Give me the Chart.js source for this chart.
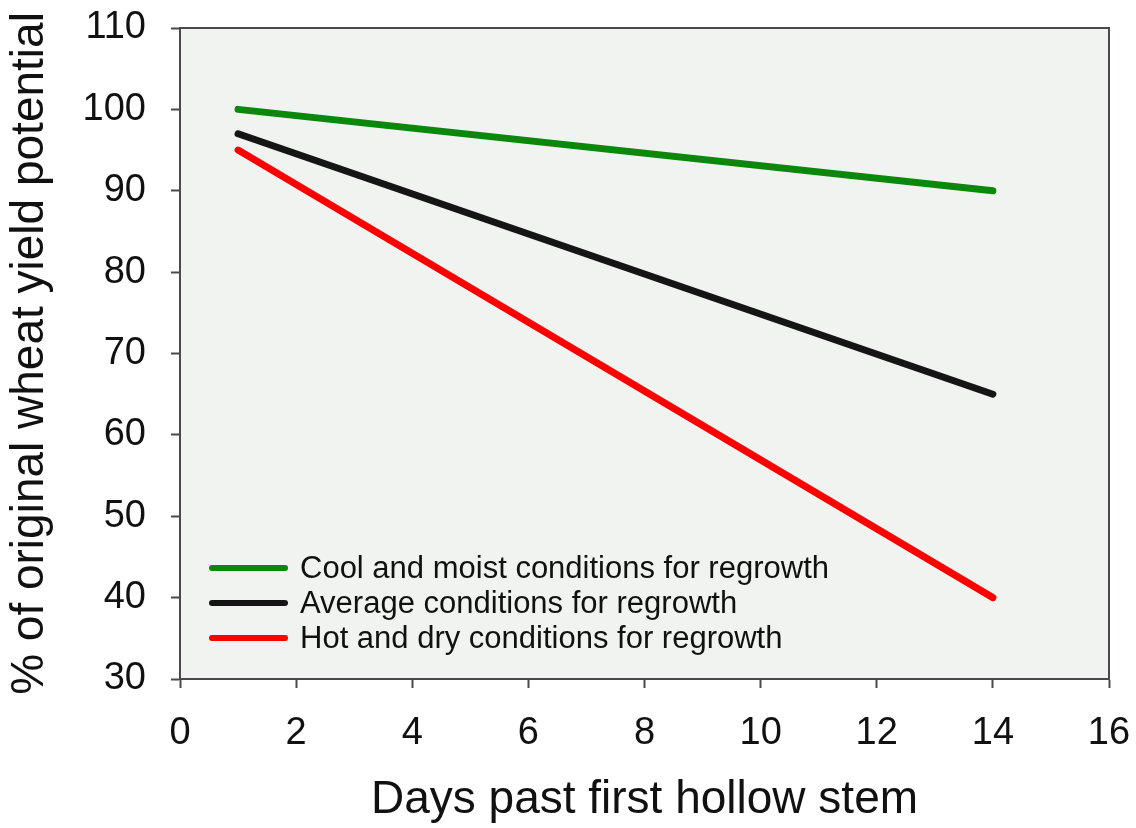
<!DOCTYPE html>
<html>
<head>
<meta charset="utf-8">
<script src="https://cdn.jsdelivr.net/npm/chart.js@4/dist/chart.umd.min.js"></script>
<style>
  html, body { margin: 0; padding: 0; background: #fff; }
  #wrap { width: 1136px; height: 828px; }
</style>
</head>
<body>
<div id="wrap"><canvas id="chart" width="1136" height="828"></canvas></div>
<script>
const days = [1, 14];
const coolMoist = [100, 90];
const average = [97, 65];
const hotDry = [95, 40];
const seriesLabels = [
    'Cool and moist conditions for regrowth',
    'Average conditions for regrowth',
    'Hot and dry conditions for regrowth',
];
const seriesColors = ['#0b870b', '#151515', '#ff0000'];

const FONT = 'Arial, "Liberation Sans", sans-serif';
const AXIS = '#4a4a4a';

const toPoints = (vals) => days.map((d, i) => ({ x: d, y: vals[i] }));

// plot background + box on top/right
const frame = {
    id: 'frame',
    beforeDraw(chart) {
        const { ctx, chartArea: a } = chart;
        ctx.save();
        ctx.fillStyle = '#f1f3f1';
        ctx.fillRect(a.left, a.top, a.right - a.left, a.bottom - a.top);
        ctx.restore();
    },
    afterDraw(chart) {
        const { ctx, chartArea: a } = chart;
        ctx.save();
        ctx.strokeStyle = AXIS;
        ctx.lineWidth = 2;
        ctx.beginPath();
        ctx.moveTo(a.left, a.top);
        ctx.lineTo(a.right, a.top);
        ctx.lineTo(a.right, a.bottom);
        ctx.stroke();
        ctx.restore();
    },
};

// legend inside plot, lower left
const insideLegend = {
    id: 'insideLegend',
    afterDatasetsDraw(chart) {
        const { ctx, chartArea: a } = chart;
        ctx.save();
        ctx.font = '31px ' + FONT;
        ctx.textBaseline = 'middle';
        chart.data.datasets.forEach((ds, i) => {
            const y = a.top + 540 + i * 35;
            ctx.strokeStyle = ds.borderColor;
            ctx.lineWidth = 6;
            ctx.lineCap = 'round';
            ctx.beginPath();
            ctx.moveTo(a.left + 32, y);
            ctx.lineTo(a.left + 105, y);
            ctx.stroke();
            ctx.fillStyle = '#111';
            ctx.fillText(ds.label, a.left + 120, y + 1);
        });
        ctx.restore();
    },
};

new Chart(document.getElementById('chart'), {
    type: 'line',
    data: {
        datasets: [coolMoist, average, hotDry].map((vals, i) => ({
            label: seriesLabels[i],
            data: toPoints(vals),
            borderColor: seriesColors[i],
            borderWidth: 7,
            borderCapStyle: 'round',
            pointRadius: 0,
            tension: 0,
        })),
    },
    options: {
        responsive: false,
        animation: false,
        layout: { padding: { top: 28, right: 27, left: 0, bottom: 0 } },
        plugins: {
            legend: { display: false },
            tooltip: { enabled: false },
        },
        scales: {
            x: {
                type: 'linear',
                min: 0,
                max: 16,
                ticks: { stepSize: 2, color: '#111', font: { family: FONT, size: 38 }, padding: 23, maxRotation: 0 },
                grid: { drawOnChartArea: false, drawTicks: true, tickLength: 9, color: AXIS, tickWidth: 2 },
                border: { display: true, color: AXIS, width: 2 },
                title: { display: true, text: 'Days past first hollow stem', color: '#111', font: { family: FONT, size: 46 }, padding: { top: 10, bottom: 0 } },
                afterFit: (s) => { s.height = 149; s.paddingLeft = 0; s.paddingRight = 0; },
            },
            y: {
                min: 30,
                max: 110,
                ticks: { stepSize: 10, color: '#111', font: { family: FONT, size: 38 }, padding: 25 },
                grid: { drawOnChartArea: false, drawTicks: true, tickLength: 9, color: AXIS, tickWidth: 2 },
                border: { display: true, color: AXIS, width: 2 },
                title: { display: true, text: '% of original wheat yield potential', color: '#111', font: { family: FONT, size: 46 }, padding: { top: 3, bottom: 4 } },
                afterFit: (s) => { s.width = 180; s.paddingTop = 0; s.paddingBottom = 0; },
            },
        },
    },
    plugins: [frame, insideLegend],
});
</script>
</body>
</html>
